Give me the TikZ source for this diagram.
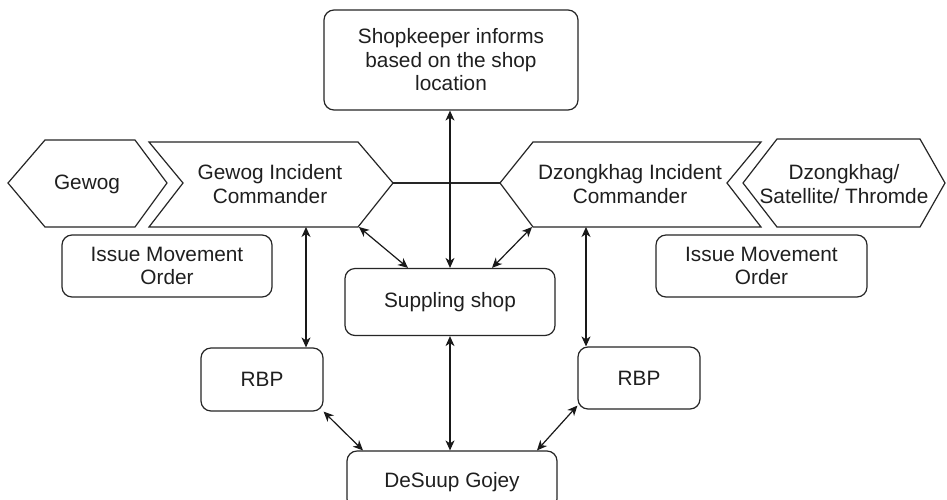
\documentclass[tikz,border=0pt]{standalone}
\usepackage{fontspec}
\setmainfont{Liberation Sans}
\usetikzlibrary{arrows.meta}
\newcommand{\diaglbl}{\fontsize{20.8}{23.5}\selectfont}
\begin{document}
\begin{tikzpicture}[x=1pt,y=-1pt,
  outline/.style={draw=black!85, line width=1.2pt, line join=miter},
  roundbox/.style={draw=black!85, line width=1.2pt, rounded corners=10pt, inner sep=0pt, align=center, font=\diaglbl, text=black!88},
  lbl/.style={align=center, font=\diaglbl, text=black!88, inner sep=0pt},
  conn/.style={draw=black!90, line width=1.2pt, {Stealth[length=10pt,width=9pt,inset=3pt]}-{Stealth[length=10pt,width=9pt,inset=3pt]}},
  plainline/.style={draw=black!85, line width=1.2pt}
]
\useasboundingbox (0,0) rectangle (947,499);
\fill[white] (0,0) rectangle (947,499);

% shapes drawn directly
\draw[outline] (8,183) -- (45,140) -- (135,140) -- (167,183) -- (135,227) -- (45,227) -- cycle;
\draw[outline] (149,142) -- (358,142) -- (393,183) -- (358,227) -- (149,227) -- (183,183) -- cycle;
\draw[outline] (500,183) -- (533,142) -- (761,142) -- (727,183) -- (761,227) -- (533,227) -- cycle;
\draw[outline] (743,183) -- (777,139) -- (920,139) -- (945,183) -- (920,227) -- (777,227) -- cycle;

% text of the polygon shapes
\node[lbl] (gewog) at (87,184) {Gewog};
\node[lbl] (gic) at (270,184) {Gewog Incident\\Commander};
\node[lbl] (dic) at (630,184) {Dzongkhag Incident\\Commander};
\node[lbl] (dzs) at (844,184) {Dzongkhag/\\Satellite/ Thromde};

% connector end points on the polygon shapes
\coordinate (gic-tip) at (393,183);
\coordinate (dic-tip) at (500,183);
\coordinate (gic-br) at (359,227);
\coordinate (dic-bl) at (532,227);
\coordinate (gic-bot) at (306,227);
\coordinate (dic-bot) at (586,227);

% rounded boxes
\node[roundbox, minimum width=254pt, minimum height=100pt] (keeper) at (451,60) {Shopkeeper informs\\based on the shop\\location};
\node[roundbox, minimum width=210pt, minimum height=67pt] (shop) at (450,302) {Suppling shop};
\node[roundbox, minimum width=210pt, minimum height=62pt] (imoL) at (167,266) {Issue Movement\\Order};
\node[roundbox, minimum width=211pt, minimum height=62pt] (imoR) at (761.5,266) {Issue Movement\\Order};
\node[roundbox, minimum width=122pt, minimum height=63pt] (rbpL) at (262,379.5) {RBP};
\node[roundbox, minimum width=122pt, minimum height=62pt] (rbpR) at (639,378) {RBP};
\node[roundbox, minimum width=210pt, minimum height=58pt, text depth=0pt] (desuup) at (452,480) {DeSuup Gojey};

% connectors
\draw[plainline] (gic-tip) -- (dic-tip);
\draw[conn] (shop.north) -- (shop.north |- keeper.south);
\draw[conn] (gic-br) -- ([xshift=-42pt]shop.north);
\draw[conn] (dic-bl) -- ([xshift=42pt]shop.north);
\draw[conn] (gic-bot) -- (gic-bot |- rbpL.north);
\draw[conn] (dic-bot) -- (dic-bot |- rbpR.north);
\draw[conn] (shop.south) -- (shop.south |- desuup.north);
\draw[conn] (rbpL.south east) -- ([xshift=-89pt]desuup.north);
\draw[conn] ([yshift=4pt]rbpR.south west) -- ([xshift=85pt]desuup.north);
\end{tikzpicture}
\end{document}
